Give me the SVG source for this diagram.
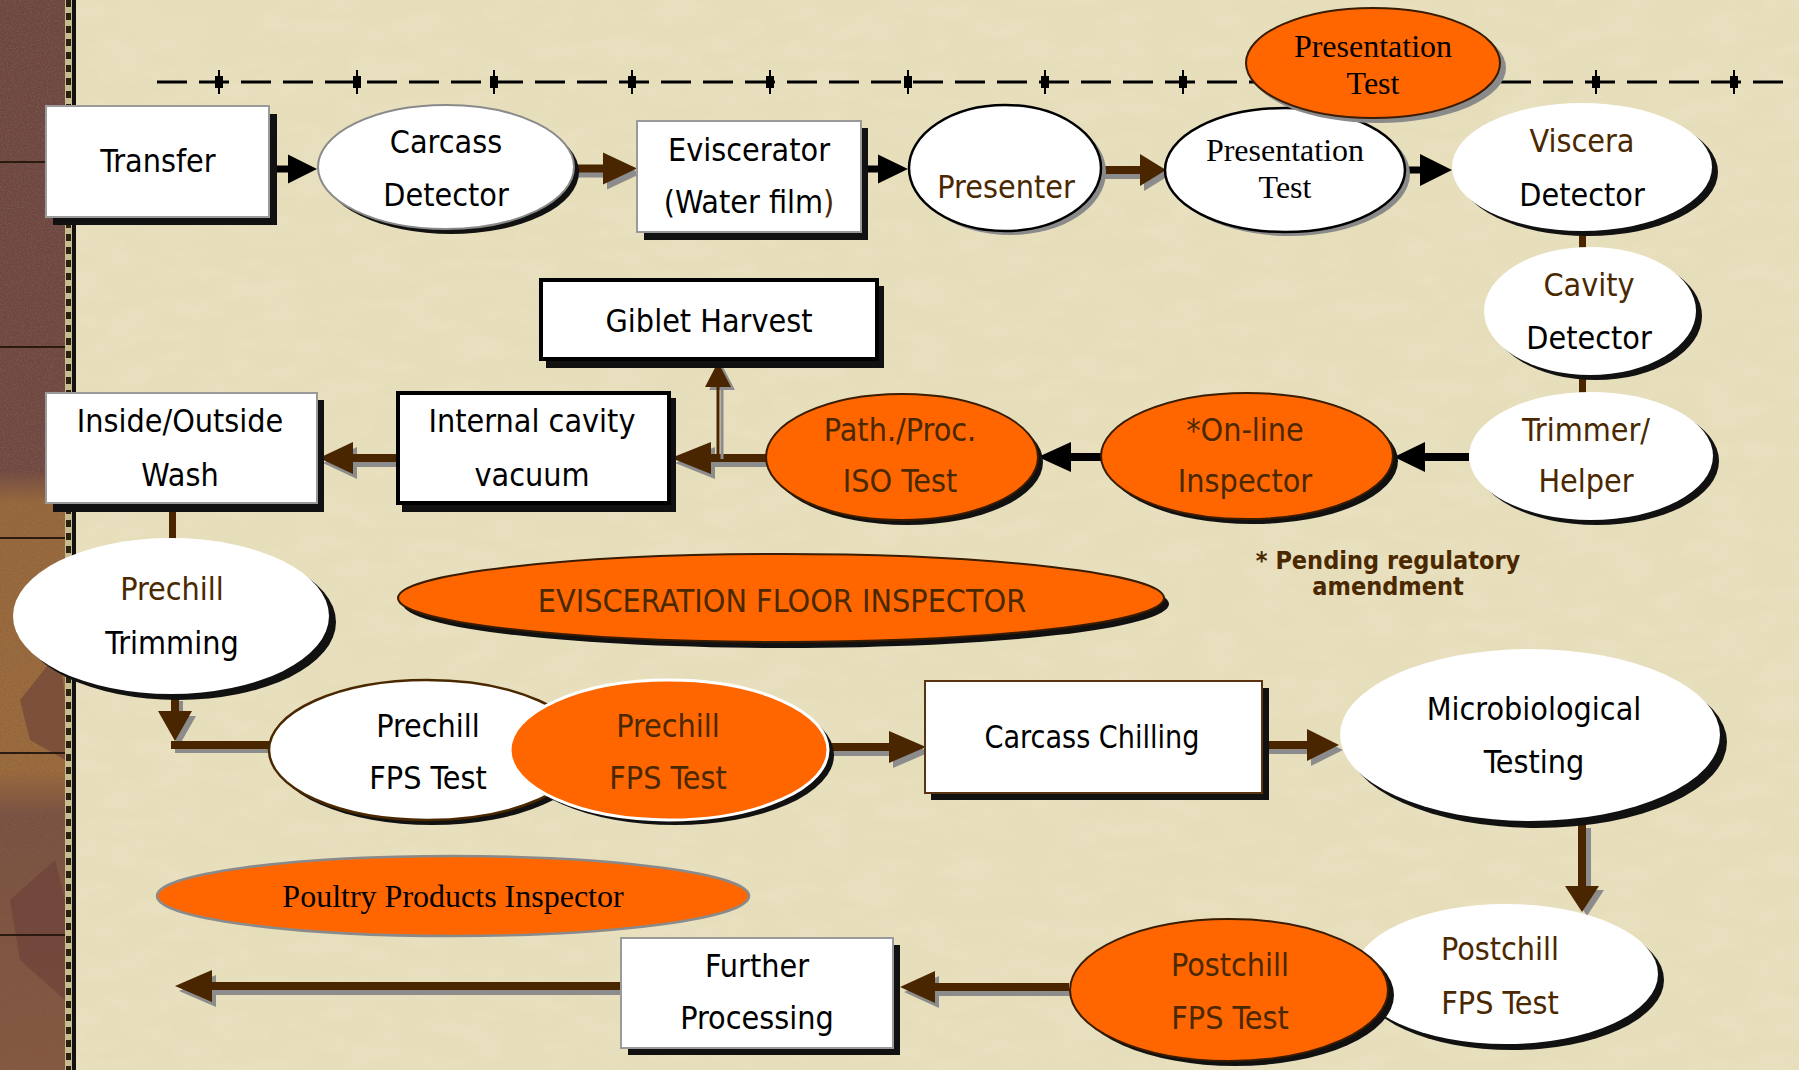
<svg xmlns="http://www.w3.org/2000/svg" width="1799" height="1070" viewBox="0 0 1799 1070">
<defs>
<linearGradient id="strip" x1="0" y1="0" x2="0" y2="1">
<stop offset="0" stop-color="#6d4541"/><stop offset="0.44" stop-color="#704742"/><stop offset="0.47" stop-color="#9c6a3a"/><stop offset="0.72" stop-color="#a06c3a"/><stop offset="0.76" stop-color="#7b5040"/><stop offset="1" stop-color="#85573e"/>
</linearGradient>
<filter id="noise" x="0" y="0" width="100%" height="100%">
<feTurbulence type="fractalNoise" baseFrequency="0.7" numOctaves="2" seed="3"/>
<feColorMatrix type="matrix" values="0 0 0 0 0.2  0 0 0 0 0.12  0 0 0 0 0.08  0 0 0 2.2 -0.9"/>
</filter>
<filter id="bgn" x="0" y="0" width="100%" height="100%">
<feTurbulence type="fractalNoise" baseFrequency="0.02 0.05" numOctaves="3" seed="7"/>
<feColorMatrix type="matrix" values="0 0 0 0 1  0 0 0 0 1  0 0 0 0 0.95  0 0 0 0.5 -0.15"/>
</filter>
<style>
.box{fill:#fff;stroke:#9a9a9a;stroke-width:2}
.boxk{fill:#fff;stroke:#000;stroke-width:4}
.boxb{fill:#fff;stroke:#5a3410;stroke-width:2}
.sh{fill:#111}
.shg{fill:#8a8a8a}
.t{font-family:'DejaVu Sans Condensed','DejaVu Sans',sans-serif;font-stretch:condensed;font-size:32px;text-anchor:middle;fill:#000}
.br{fill:#4a2800}
.s{font-family:'Liberation Serif','Times New Roman',serif;font-size:32px;text-anchor:middle;fill:#000}
.pb{font-family:'DejaVu Sans Condensed','DejaVu Sans',sans-serif;font-stretch:condensed;font-weight:bold;font-size:25px;text-anchor:middle;fill:#4a2800}
.org{fill:#ff6600;stroke:#3a1c00;stroke-width:2}
.wht{fill:#fff}
.arr{fill:#4a2600}
.arrs{fill:#8c8c8c}
.blk{fill:#000}
.dash{stroke:#000;stroke-width:3;stroke-dasharray:30 12;fill:none}
.mk{fill:#000}
.sl{fill:#2a1a10}
</style>
</defs>
<rect width="1799" height="1070" fill="#e6ddba"/>
<rect width="1799" height="1070" filter="url(#bgn)" opacity="0.35"/>
<g id="strip-band">
<rect x="0" y="0" width="65" height="1070" fill="url(#strip)"/>
<rect x="0" y="0" width="65" height="1070" filter="url(#noise)" opacity="0.8"/>
<path d="M20,700 L60,650 L65,700 L65,760 L30,740 Z M10,900 L55,860 L65,900 L65,1000 L20,960 Z" fill="#6a4038" opacity="0.6"/>
<rect class="sl" x="0" y="161" width="65" height="2"/>
<rect class="sl" x="0" y="346" width="65" height="2"/>
<rect class="sl" x="0" y="537" width="65" height="2"/>
<rect class="sl" x="0" y="752" width="65" height="2"/>
<rect class="sl" x="0" y="934" width="65" height="2"/>
<rect x="65" y="0" width="7" height="1070" fill="#c9bb90"/>
<line x1="68.5" y1="0" x2="68.5" y2="1070" stroke="#2a2010" stroke-width="5" stroke-dasharray="7 6"/>
<rect x="72" y="0" width="4" height="1070" fill="#111"/>
</g>
<g id="timeline">
<line class="dash" x1="157" y1="82" x2="1790" y2="82"/>
<g class="mk">
<rect x="215" y="76" width="8" height="12"/><rect x="218" y="70" width="2" height="24"/>
<rect x="353" y="76" width="8" height="12"/><rect x="356" y="70" width="2" height="24"/>
<rect x="490" y="76" width="8" height="12"/><rect x="493" y="70" width="2" height="24"/>
<rect x="628" y="76" width="8" height="12"/><rect x="631" y="70" width="2" height="24"/>
<rect x="766" y="76" width="8" height="12"/><rect x="769" y="70" width="2" height="24"/>
<rect x="904" y="76" width="8" height="12"/><rect x="907" y="70" width="2" height="24"/>
<rect x="1041" y="76" width="8" height="12"/><rect x="1044" y="70" width="2" height="24"/>
<rect x="1179" y="76" width="8" height="12"/><rect x="1182" y="70" width="2" height="24"/>
<rect x="1592" y="76" width="8" height="12"/><rect x="1595" y="70" width="2" height="24"/>
<rect x="1730" y="76" width="8" height="12"/><rect x="1733" y="70" width="2" height="24"/>
</g>
</g>
<g id="connectors">
<path class="blk" d="M269,165.5 H288 V154.5 L317,169 L288,183.5 V172.5 H269 Z"/>
<g><path class="arrs" transform="translate(4,5)" d="M574,164.5 H603 V152.5 L637,168.5 L603,184.5 V172.5 H574 Z"/><path class="arr" d="M574,164.5 H603 V152.5 L637,168.5 L603,184.5 V172.5 H574 Z"/></g>
<path class="blk" d="M861,165.5 H878 V154.5 L908,169 L878,183.5 V172.5 H861 Z"/>
<g><path class="arrs" transform="translate(4,5)" d="M1101,166 H1140 V154 L1166,170 L1140,186 V174 H1101 Z"/><path class="arr" d="M1101,166 H1140 V154 L1166,170 L1140,186 V174 H1101 Z"/></g>
<path class="blk" d="M1405,166.5 H1420 V154 L1452,170 L1420,186 V173.5 H1405 Z"/>
<rect class="arr" x="1579" y="234" width="7" height="15"/>
<rect class="arr" x="1579" y="376" width="7" height="18"/>
<path class="blk" d="M1469,453 H1425 V442 L1394,457 L1425,472 V461 H1469 Z"/>
<path class="blk" d="M1101,453 H1071 V442 L1038,457 L1071,472 V461 H1101 Z"/>
<g><path class="arrs" transform="translate(4,5)" d="M766,454 H711 V442 L671,458 L711,474 V462 H766 Z"/><path class="arr" d="M766,454 H711 V442 L671,458 L711,474 V462 H766 Z"/></g>
<g><path class="arrs" transform="translate(4,3)" d="M716.5,456 V387 H705 L718,362 L731,387 H719.5 V456 Z"/><path class="arr" d="M716.5,456 V387 H705 L718,362 L731,387 H719.5 V456 Z"/></g>
<g><path class="arrs" transform="translate(4,5)" d="M396,454 H353 V442 L319,458 L353,474 V462 H396 Z"/><path class="arr" d="M396,454 H353 V442 L319,458 L353,474 V462 H396 Z"/></g>
<rect class="arr" x="169" y="503" width="7" height="40"/>
<g><path class="arrs" transform="translate(4,5)" d="M171,696 V711 H158 L175,741 L192,711 H179 V696 Z"/><rect class="arrs" x="175" y="745" width="99" height="8"/><path class="arr" d="M171,696 V711 H158 L175,741 L192,711 H179 V696 Z"/><rect class="arr" x="171" y="741" width="101" height="8"/></g>
<g><path class="arrs" transform="translate(4,5)" d="M829,743 H889 V731 L926,747 L889,763 V751 H829 Z"/><path class="arr" d="M829,743 H889 V731 L926,747 L889,763 V751 H829 Z"/></g>
<g><path class="arrs" transform="translate(4,5)" d="M1262,741 H1307 V729 L1339,745 L1307,761 V749 H1262 Z"/><path class="arr" d="M1262,741 H1307 V729 L1339,745 L1307,761 V749 H1262 Z"/></g>
<g><path class="arrs" transform="translate(5,4)" d="M1578,824 V886 H1565 L1582,912 L1599,886 H1586 V824 Z"/><path class="arr" d="M1578,824 V886 H1565 L1582,912 L1599,886 H1586 V824 Z"/></g>
<g><path class="arrs" transform="translate(4,5)" d="M1069,983 H935 V971 L900,987 L935,1003 V991 H1069 Z"/><path class="arr" d="M1069,983 H935 V971 L900,987 L935,1003 V991 H1069 Z"/></g>
<g><path class="arrs" transform="translate(4,5)" d="M621,982 H212 V970 L175,986 L212,1002 V990 H621 Z"/><path class="arr" d="M621,982 H212 V970 L175,986 L212,1002 V990 H621 Z"/></g>
</g>
<g id="transfer">
<rect class="sh" x="53" y="114" width="224" height="111"/>
<rect class="box" x="46" y="106" width="223" height="111"/>
<text class="t" x="158" y="172">Transfer</text>
</g>
<g id="carcass-detector">
<ellipse class="sh" cx="451" cy="172" rx="128" ry="62"/>
<ellipse cx="446" cy="167" rx="128" ry="62" fill="#fff" stroke="#8a8a8a" stroke-width="2"/>
<text class="t" x="446" y="153">Carcass</text>
<text class="t" x="446" y="206">Detector</text>
</g>
<g id="eviscerator">
<rect class="sh" x="644" y="128" width="224" height="112"/>
<rect class="box" x="637" y="121" width="224" height="111"/>
<text class="t" x="749" y="161">Eviscerator</text>
<text class="t" x="749" y="213">(Water film<tspan class="br">)</tspan></text>
</g>
<g id="presenter">
<ellipse class="shg" cx="1010" cy="172" rx="96" ry="63"/>
<ellipse cx="1005" cy="168" rx="96" ry="63" fill="#fff" stroke="#000" stroke-width="2.5"/>
<text class="t br" x="1006" y="198">Presenter</text>
</g>
<g id="presentation-test">
<ellipse class="shg" cx="1290" cy="174" rx="120" ry="62"/>
<ellipse cx="1285" cy="170" rx="120" ry="62" fill="#fff" stroke="#000" stroke-width="2.5"/>
<text class="s" x="1285" y="161">Presentation</text>
<text class="s" x="1285" y="198">Test</text>
</g>
<g id="presentation-test-inspector">
<ellipse class="shg" cx="1378" cy="68" rx="128" ry="55"/>
<ellipse class="org" cx="1373" cy="63" rx="127" ry="55" stroke="#000"/>
<text class="s br" x="1373" y="57">Presentation</text>
<text class="s br" x="1373" y="94">Test</text>
</g>
<g id="viscera-detector">
<ellipse class="sh" cx="1588" cy="172" rx="130" ry="64"/>
<ellipse class="wht" cx="1582" cy="167" rx="130" ry="64"/>
<text class="t br" x="1582" y="152">Viscera</text>
<text class="t" x="1582" y="206">Detector</text>
</g>
<g id="cavity-detector">
<ellipse class="sh" cx="1596" cy="316" rx="106" ry="64"/>
<ellipse class="wht" cx="1590" cy="311" rx="106" ry="64"/>
<text class="t br" x="1589" y="296">Cavity</text>
<text class="t" x="1589" y="349">Detector</text>
</g>
<g id="trimmer-helper">
<ellipse class="sh" cx="1597" cy="461" rx="122" ry="64"/>
<ellipse class="wht" cx="1591" cy="456" rx="122" ry="64"/>
<text class="t br" x="1586" y="441">Trimmer/</text>
<text class="t br" x="1586" y="492">Helper</text>
</g>
<g id="online-inspector">
<ellipse class="sh" cx="1252" cy="461" rx="146" ry="63"/>
<ellipse class="org" cx="1247" cy="456" rx="146" ry="63"/>
<text class="t br" x="1245" y="441">*On-line</text>
<text class="t br" x="1245" y="492">Inspector</text>
</g>
<g id="path-proc-iso">
<ellipse class="sh" cx="907" cy="462" rx="136" ry="63"/>
<ellipse class="org" cx="902" cy="457" rx="136" ry="63"/>
<text class="t br" x="900" y="441">Path./Proc.</text>
<text class="t br" x="900" y="492">ISO Test</text>
</g>
<g id="giblet-harvest">
<rect class="sh" x="546" y="286" width="338" height="82"/>
<rect class="boxk" x="541" y="280" width="336" height="79"/>
<text class="t" x="709" y="332">Giblet Harvest</text>
</g>
<g id="internal-cavity-vacuum">
<rect class="sh" x="402" y="398" width="274" height="114"/>
<rect class="boxk" x="398" y="393" width="271" height="110"/>
<text class="t" x="532" y="432">Internal cavity</text>
<text class="t" x="532" y="486">vacuum</text>
</g>
<g id="inside-outside-wash">
<rect class="sh" x="53" y="400" width="271" height="112"/>
<rect class="box" x="46" y="393" width="271" height="110"/>
<text class="t" x="180" y="432">Inside/Outside</text>
<text class="t" x="180" y="486">Wash</text>
</g>
<g id="prechill-trimming">
<ellipse class="sh" cx="178" cy="622" rx="158" ry="78"/>
<ellipse class="wht" cx="171" cy="616" rx="158" ry="78"/>
<text class="t br" x="172" y="600">Prechill</text>
<text class="t" x="172" y="654">Trimming</text>
</g>
<g id="evisceration-floor-inspector">
<ellipse class="sh" cx="786" cy="604" rx="383" ry="44"/>
<ellipse class="org" cx="781" cy="598" rx="383" ry="44"/>
<text class="t br" x="782" y="612">EVISCERATION FLOOR INSPECTOR</text>
</g>
<g id="pending-note">
<text class="pb" x="1388" y="569">* Pending regulatory</text>
<text class="pb" x="1388" y="595">amendment</text>
</g>
<g id="prechill-fps-test">
<ellipse class="sh" cx="432" cy="755" rx="158" ry="70"/>
<ellipse cx="427" cy="750" rx="158" ry="70" fill="#fff" stroke="#4a2800" stroke-width="2.5"/>
<text class="t" x="428" y="737">Prechill</text>
<text class="t" x="428" y="789">FPS Test</text>
</g>
<g id="prechill-fps-test-inspector">
<ellipse class="sh" cx="675" cy="755" rx="159" ry="70"/>
<ellipse cx="669" cy="750" rx="159" ry="70" fill="#ff6600" stroke="#fff" stroke-width="3"/>
<text class="t br" x="668" y="737">Prechill</text>
<text class="t br" x="668" y="789">FPS Test</text>
</g>
<g id="carcass-chilling">
<rect class="sh" x="931" y="688" width="338" height="112"/>
<rect class="boxb" x="925" y="681" width="337" height="112"/>
<text class="t" x="1092" y="748" textLength="215" lengthAdjust="spacingAndGlyphs">Carcass Chilling</text>
</g>
<g id="microbiological-testing">
<ellipse class="sh" cx="1537" cy="742" rx="190" ry="86"/>
<ellipse class="wht" cx="1530" cy="735" rx="190" ry="86"/>
<text class="t" x="1534" y="720">Microbiological</text>
<text class="t" x="1534" y="773">Testing</text>
</g>
<g id="postchill-fps-test">
<ellipse class="sh" cx="1512" cy="980" rx="152" ry="70"/>
<ellipse class="wht" cx="1506" cy="974" rx="152" ry="70"/>
<text class="t br" x="1500" y="960">Postchill</text>
<text class="t br" x="1500" y="1014">FPS Test</text>
</g>
<g id="postchill-fps-test-inspector">
<ellipse class="sh" cx="1235" cy="995" rx="159" ry="71"/>
<ellipse class="org" cx="1229" cy="990" rx="159" ry="71"/>
<text class="t br" x="1230" y="976">Postchill</text>
<text class="t br" x="1230" y="1029">FPS Test</text>
</g>
<g id="further-processing">
<rect class="sh" x="628" y="945" width="272" height="110"/>
<rect class="box" x="621" y="938" width="272" height="110"/>
<text class="t" x="757" y="977">Further</text>
<text class="t" x="757" y="1029">Processing</text>
</g>
<g id="poultry-products-inspector">
<ellipse cx="453" cy="896" rx="296" ry="40" fill="#ff6600" stroke="#8a8a8a" stroke-width="2.5"/>
<text class="s br" x="453" y="907">Poultry Products Inspector</text>
</g>
</svg>
